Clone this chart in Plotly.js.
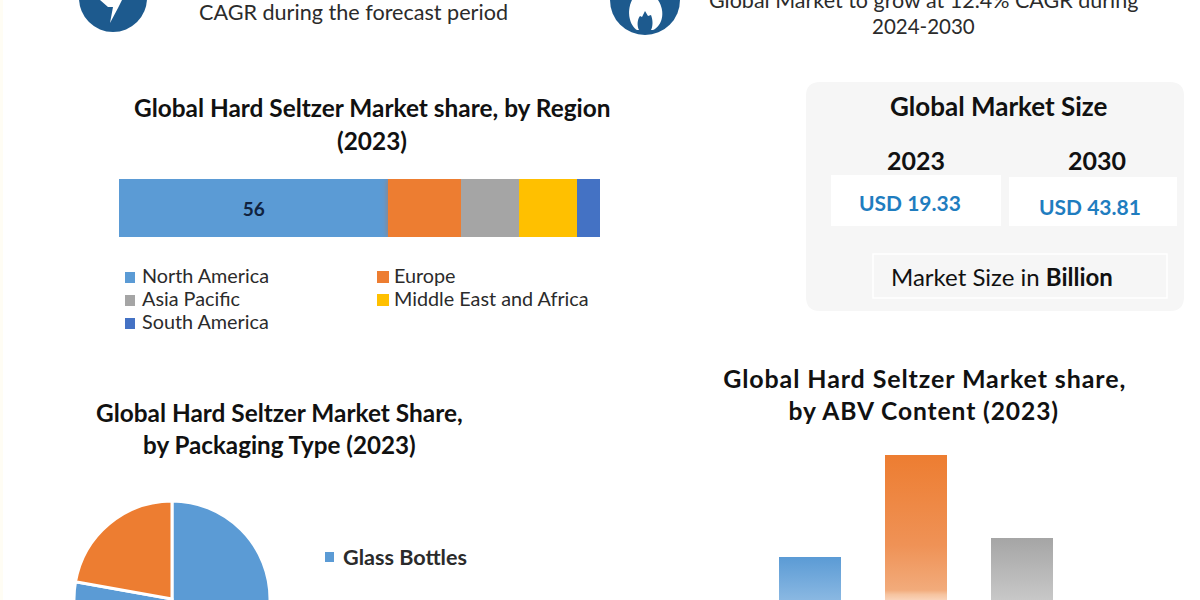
<!DOCTYPE html>
<html>
<head>
<meta charset="utf-8">
<script src="https://cdn.plot.ly/plotly-3.0.1.min.js"></script>
<style>
  html, body { margin: 0; padding: 0; width: 1200px; height: 600px; overflow: hidden; background: #fff; }
</style>
</head>
<body>
<div id="chart"></div>
<script>
// Region share (stacked bar)
const regions = ['North America', 'Europe', 'Asia Pacific', 'Middle East and Africa', 'South America'];
const regionShare = [56, 15, 12.2, 12.1, 4.7];
const regionLabels = ['56', '', '', '', ''];
const regionColors = ['#5b9bd5', '#ed7d31', '#a5a5a5', '#ffc000', '#4472c4'];

// Packaging share (pie), the page crops it just past the centre
const packaging = ['Glass Bottles', 'Other Packaging', 'Cans'];
const packagingShare = [50, 27.8, 22.2];
const packagingColors = ['#5b9bd5', '#5b9bd5', '#ed7d31'];

// ABV content share (columns), cropped at the bottom too
const abvLevels = ['1% to 4.9%', '5% to 6.9%', '7% and above'];
const abvShare = [27.3, 50, 31.6];
const abvColors = ['#5b9bd5', '#ed7d31', '#a5a5a5'];

const FULL_H = 720; // taller than the window so the bottom charts run off the page
const FONT = 'Lato, Carlito, sans-serif';
const INK = '#111111';
const BODY = '#2b2b2b';

// y in page pixels -> paper fraction
const py = (y) => 1 - y / FULL_H;

const data = [];

regions.forEach((name, i) => {
  data.push({
    type: 'bar',
    orientation: 'h',
    name: name,
    x: [regionShare[i]],
    y: ['Share'],
    xaxis: 'x',
    yaxis: 'y',
    marker: { color: regionColors[i] },
    text: [regionLabels[i]],
    textposition: 'inside',
    insidetextanchor: 'middle',
    textangle: 0,
    textfont: { family: FONT, size: 19, color: '#10233f', weight: 700 },
    showlegend: false,
  });
});

data.push({
  type: 'pie',
  labels: packaging,
  values: packagingShare,
  sort: false,
  direction: 'clockwise',
  rotation: 0,
  textinfo: 'none',
  hoverinfo: 'label+percent',
  marker: { colors: packagingColors, line: { color: '#ffffff', width: 3 } },
  domain: { x: [74 / 1200, 270 / 1200], y: [py(697), py(501)] },
  showlegend: false,
});

data.push({
  type: 'bar',
  x: abvLevels,
  y: abvShare,
  width: [0.585, 0.585, 0.585],
  xaxis: 'x2',
  yaxis: 'y2',
  marker: { color: abvColors },
  showlegend: false,
});

// Pixel overlay axes for the panel, the icons and the hand-placed texts
function txt(text, x, y, size, color, anchor) {
  return {
    text: text, x: x, y: y, xref: 'x3', yref: 'y3',
    xanchor: anchor || 'center', yanchor: 'middle',
    showarrow: false,
    font: { family: FONT, size: size, color: color || INK },
  };
}

function box(x0, y0, x1, y1, fill, line) {
  return {
    type: 'rect', xref: 'x3', yref: 'y3', x0: x0, y0: y0, x1: x1, y1: y1,
    fillcolor: fill, line: { color: line || fill, width: line ? 1.5 : 0 }, layer: 'below',
  };
}

function outline(path, fill) {
  return { type: 'path', xref: 'x3', yref: 'y3', path: path, fillcolor: fill, line: { width: 0 }, layer: 'below' };
}

function disc(cx, cy, r, fill) {
  return {
    type: 'circle', xref: 'x3', yref: 'y3', x0: cx - r, x1: cx + r, y0: cy - r, y1: cy + r,
    fillcolor: fill, line: { width: 0 }, layer: 'below',
  };
}

const ICON_BLUE = '#1d5a8e';

const shapes = [
  box(0, 0, 3, 720, '#fffdf4'),
  disc(113, -2, 34, ICON_BLUE),
  outline('M100,0 L108,7 L113,7 L110,23 L118,8 L122,0 Z', '#ffffff'),
  disc(645, 0, 35, ICON_BLUE),
  outline('M632,0 C626,12 630,26 637,30 L653,30 C662,26 666,12 658,0 Z', '#ffffff'),
  outline('M645,11 L648,16 L651,15 C653,20 653,26 651,30 L639,30 C637,26 637,20 640,16 L642,17 Z', ICON_BLUE),
  outline('M820,82 L1170,82 Q1184,82 1184,96 L1184,297 Q1184,311 1170,311 L820,311 Q806,311 806,297 L806,96 Q806,82 820,82 Z', '#f6f6f6'),
  box(831, 175, 1001, 226, '#ffffff'),
  box(1009, 177, 1177, 226, '#ffffff'),
  box(873, 254, 1167, 298, '#f6f6f6', '#ffffff'),
  // legend swatches
  box(125, 272, 135, 283, regionColors[0]),
  box(377, 271, 389, 283, regionColors[1]),
  box(125, 295, 135, 306, regionColors[2]),
  box(377, 294, 389, 306, regionColors[3]),
  box(125, 318, 135, 329, regionColors[4]),
  box(325, 552, 334, 562, packagingColors[0]),
];

const annotations = [
  txt('CAGR during the forecast period', 353, 12, 21.6, BODY),
  txt('Global Market to grow at 12.4% CAGR during', 923, 0, 21.5, BODY),
  txt('2024-2030', 923, 26, 20.5, BODY),
  txt('<b>Global Hard Seltzer Market share, by Region</b>', 372, 107, 24.4),
  txt('<b>(2023)</b>', 372, 140, 24.4),
  txt(regions[0], 140, 275, 19.8, BODY, 'left'),
  txt(regions[2], 140, 298, 19.8, BODY, 'left'),
  txt(regions[4], 140, 321, 19.8, BODY, 'left'),
  txt(regions[1], 392, 275, 19.8, BODY, 'left'),
  txt(regions[3], 392, 298, 19.8, BODY, 'left'),
  txt('<b>Global Market Size</b>', 999, 106, 26),
  txt('<b>2023</b>', 916, 160, 25),
  txt('<b>2030</b>', 1097, 160, 25),
  txt('<b>USD 19.33</b>', 910, 202, 21, '#1f7dbf'),
  txt('<b>USD 43.81</b>', 1090, 206, 21, '#1f7dbf'),
  txt('Market Size in <b>Billion</b>', 1002, 276, 24),
  txt('<b>Global Hard Seltzer Market Share,</b>', 279, 412, 24.4),
  txt('<b>by Packaging Type (2023)</b>', 279, 444, 24.2),
  txt('<b>' + packaging[0] + '</b>', 341, 557, 21.6, BODY, 'left'),
  txt('<b>Global Hard Seltzer Market share,</b>', 924, 378, 25),
  txt('<b>by ABV Content (2023)</b>', 924, 410, 24.6),
];

const layout = {
  width: 1200,
  height: FULL_H,
  margin: { l: 0, r: 0, t: 0, b: 0 },
  paper_bgcolor: '#ffffff',
  plot_bgcolor: 'rgba(0,0,0,0)',
  showlegend: false,
  barmode: 'stack',
  bargap: 0,
  xaxis: { domain: [119 / 1200, 600 / 1200], range: [0, 100], visible: false, fixedrange: true },
  yaxis: { domain: [py(237), py(179)], visible: false, fixedrange: true },
  xaxis2: { domain: [757 / 1200, 1075 / 1200], anchor: 'y2', visible: false, fixedrange: true, range: [-0.5, 2.5] },
  yaxis2: { domain: [py(680), py(455)], anchor: 'x2', range: [0, 50], visible: false, fixedrange: true },
  xaxis3: { domain: [0, 1], anchor: 'y3', range: [0, 1200], visible: false, fixedrange: true },
  yaxis3: { domain: [0, 1], anchor: 'x3', range: [FULL_H, 0], visible: false, fixedrange: true },
  shapes: shapes,
  annotations: annotations,
};

// Column fades, [offset, color] from the top of each bar
const abvFades = [
  [[0, '#5b9bd5'], [0.35, '#8ab8e2'], [1, '#b5d2ee']],
  [[0, '#ed7d31'], [0.4, '#ef9256'], [0.6, '#f2ab7b'], [0.62, '#f6c39f'], [0.66, '#fbdcc8'], [1, '#fdeee4']],
  [[0, '#a5a5a5'], [0.44, '#c8c8c8'], [1, '#e2e2e2']],
];

Plotly.newPlot('chart', data, layout, { staticPlot: true, displayModeBar: false }).then((gd) => {
  const NS = 'http://www.w3.org/2000/svg';
  const svg = gd.querySelector('.main-svg');
  const defs = svg.querySelector('defs');

  gd.querySelectorAll('.subplot.x2y2 .barlayer .point path').forEach((bar, i) => {
    const grad = document.createElementNS(NS, 'linearGradient');
    grad.setAttribute('id', 'abv-fade-' + i);
    grad.setAttribute('x1', '0');
    grad.setAttribute('y1', '0');
    grad.setAttribute('x2', '0');
    grad.setAttribute('y2', '1');
    abvFades[i].forEach((s) => {
      const stop = document.createElementNS(NS, 'stop');
      stop.setAttribute('offset', s[0]);
      stop.setAttribute('stop-color', s[1]);
      grad.appendChild(stop);
    });
    defs.appendChild(grad);
    bar.style.fill = 'url(#abv-fade-' + i + ')';
  });

  // soft glow around the Europe segment
  const segments = gd.querySelectorAll('.subplot.xy .barlayer .point path');
  if (segments[1]) segments[1].style.filter = 'drop-shadow(0 0 3px rgba(200,110,50,0.7))';

  // the ABV title is set wider than the others
  gd.querySelectorAll('.annotation-text').forEach((t) => {
    const s = t.textContent;
    if (s.indexOf('ABV') > 0 || s === 'Global Hard Seltzer Market share,') t.style.letterSpacing = '0.9px';
  });
});
</script>
</body>
</html>
